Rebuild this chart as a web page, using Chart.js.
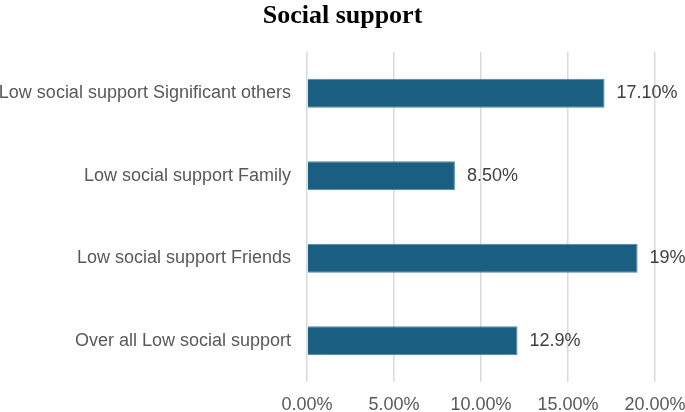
<!DOCTYPE html>
<html>
<head>
<meta charset="utf-8">
<script src="https://cdn.jsdelivr.net/npm/chart.js@4"></script>
<style>
html,body{margin:0;padding:0;background:#fff;}
#wrap{width:685px;height:412px;}
</style>
</head>
<body>
<div id="wrap"><canvas id="c"></canvas></div>
<script>
const categories = ["Low social support Significant others", "Low social support Family", "Low social support Friends", "Over all Low social support"];
const values = [17.1, 8.5, 19.0, 12.1];
const valueLabels = ["17.10%", "8.50%", "19%", "12.9%"];
const tickLabels = ["0.00%", "5.00%", "10.00%", "15.00%", "20.00%"];
const titleText = "Social support";

const FONT = '"Liberation Sans", Arial, sans-serif';

const dataLabelPlugin = {
  id: 'dataLabels',
  afterDatasetsDraw(chart) {
    const ctx = chart.ctx;
    const meta = chart.getDatasetMeta(0);
    ctx.save();
    ctx.font = '18px ' + FONT;
    ctx.fillStyle = '#404040';
    ctx.textAlign = 'left';
    ctx.textBaseline = 'middle';
    meta.data.forEach((bar, i) => {
      ctx.fillText(valueLabels[i], bar.x + 12, bar.y);
    });
    ctx.restore();
  }
};

const titlePlugin = {
  id: 'customTitle',
  afterDraw(chart) {
    const ctx = chart.ctx;
    ctx.save();
    ctx.font = 'bold 26px "Liberation Serif", "Times New Roman", serif';
    ctx.fillStyle = '#000';
    ctx.textAlign = 'center';
    ctx.textBaseline = 'alphabetic';
    ctx.fillText(titleText, chart.width / 2, 23);
    ctx.restore();
  }
};

new Chart(document.getElementById('c'), {
  type: 'bar',
  data: {
    labels: categories,
    datasets: [{
      data: values,
      backgroundColor: '#1a5f81',
      borderColor: '#4d86a3',
      borderWidth: 1,
      categoryPercentage: 1,
      barPercentage: 0.35
    }]
  },
  options: {
    indexAxis: 'y',
    responsive: true,
    maintainAspectRatio: false,
    animation: false,
    layout: { padding: { left: 0, right: 30, top: 52, bottom: 0 } },
    plugins: {
      legend: { display: false },
      tooltip: { enabled: false },
      title: { display: false }
    },
    scales: {
      x: {
        min: 0,
        max: 20,
        border: { display: false },
        grid: { color: '#d9d9d9', lineWidth: 1.5, drawTicks: false },
        afterFit(scale) { scale.height = 30; scale.paddingRight = 0; scale.paddingLeft = 0; },
        ticks: {
          stepSize: 5,
          padding: 12,
          maxRotation: 0,
          color: '#595959',
          font: { family: FONT, size: 18 },
          callback: (v, i) => tickLabels[i]
        }
      },
      y: {
        border: { display: false },
        grid: { display: false, drawTicks: false },
        afterFit(scale) { scale.width = 307; },
        ticks: {
          padding: 16,
          color: '#595959',
          font: { family: FONT, size: 18 }
        }
      }
    }
  },
  plugins: [dataLabelPlugin, titlePlugin]
});
</script>
</body>
</html>
